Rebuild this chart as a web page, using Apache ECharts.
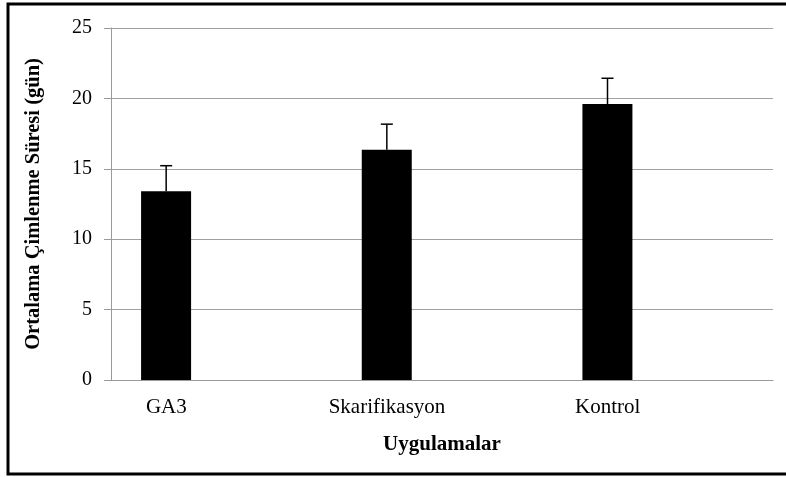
<!DOCTYPE html>
<html>
<head>
<meta charset="utf-8">
<script src="https://cdn.jsdelivr.net/npm/echarts@6/dist/echarts.min.js"></script>
<style>
html,body{margin:0;padding:0;background:#fff;}
#chart{width:786px;height:477px;}
</style>
</head>
<body>
<div id="chart"></div>
<script>
var categories = ["GA3", "Skarifikasyon", "Kontrol"];
var means = [13.4, 16.35, 19.6];
var errors = [1.82, 1.82, 1.83];
var yTicks = [0, 5, 10, 15, 20, 25];

var chart = echarts.init(document.getElementById('chart'));
var font = '"Liberation Serif", "Times New Roman", serif';

var errData = categories.map(function (c, i) { return [i, means[i], errors[i]]; });

chart.setOption({
  animation: false,
  backgroundColor: '#fff',
  textStyle: { fontFamily: font },
  graphic: [{
    type: 'rect',
    shape: { x: 8, y: 4, width: 800, height: 470 },
    style: { fill: 'none', stroke: '#000', lineWidth: 3 },
    z: 100
  }],
  grid: { left: 111, top: 28, right: 13, bottom: 97 },
  xAxis: {
    type: 'category',
    data: categories,
    name: 'Uygulamalar',
    nameLocation: 'middle',
    nameGap: 54,
    nameTextStyle: { fontFamily: font, fontWeight: 'bold', fontSize: 21, color: '#000' },
    axisLine: { lineStyle: { color: '#9a9a9a', width: 1 } },
    axisTick: { show: false },
    axisLabel: {
      margin: 17,
      color: '#000',
      fontFamily: font,
      fontSize: 21,
      formatter: function (v) { return '{a|' + v + '}'; },
      rich: { a: { fontFamily: font, fontSize: 21, color: '#000', padding: [0, 110, 0, 0] } }
    }
  },
  yAxis: {
    type: 'value',
    min: 0, max: 25, interval: 5,
    name: 'Ortalama Çimlenme Süresi (gün)',
    nameLocation: 'middle',
    nameGap: 67,
    nameTextStyle: { fontFamily: font, fontWeight: 'bold', fontSize: 20.5, color: '#000' },
    axisLine: { show: true, lineStyle: { color: '#9a9a9a', width: 1 } },
    axisTick: { show: true, length: 7, lineStyle: { color: '#9a9a9a' } },
    axisLabel: {
      margin: 19, color: '#000', fontFamily: font, fontSize: 20,
      formatter: function (v) { return yTicks.indexOf(v) >= 0 ? String(v) : ''; }
    },
    splitLine: { lineStyle: { color: '#a0a0a0', width: 1 } }
  },
  series: [
    {
      type: 'bar',
      data: means,
      barWidth: 50,
      barGap: '121%',
      itemStyle: { color: '#000' },
      z: 2
    },
    {
      type: 'bar',
      data: [null, null, null],
      barWidth: 50,
      itemStyle: { color: '#000' }
    },
    {
      type: 'custom',
      data: errData,
      z: 5,
      renderItem: function (params, api) {
        var i = api.value(0), m = api.value(1), e = api.value(2);
        var bw = api.size([1, 0])[0];
        var x = api.coord([i, 0])[0] - bw / 4;
        var top = api.coord([i, m + e])[1];
        var mid = api.coord([i, m])[1];
        var style = { stroke: '#000', lineWidth: 1.5 };
        return {
          type: 'group',
          children: [
            { type: 'line', shape: { x1: x, y1: mid, x2: x, y2: top }, style: style },
            { type: 'line', shape: { x1: x - 6, y1: top, x2: x + 6, y2: top }, style: style }
          ]
        };
      }
    }
  ]
});
</script>
</body>
</html>
